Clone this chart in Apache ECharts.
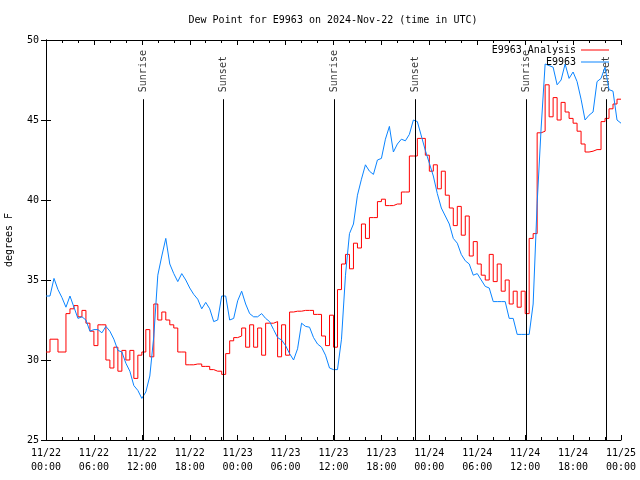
<!DOCTYPE html>
<html>
<head>
<meta charset="utf-8">
<script src="https://cdn.jsdelivr.net/npm/echarts@6/dist/echarts.min.js"></script>
<style>
html,body{margin:0;padding:0;background:#fff;}
#chart{width:640px;height:480px;}
</style>
</head>
<body>
<div id="chart"></div>
<script>
// Sample spacing (hours) of the two series, starting 2024-11-22 00:00 UTC
const sampleStepHours = 0.5;

// E9963 Analysis (red), one value per half hour
const analysisValues = [
  30.5,31.3,31.3,30.5,30.5,32.9,33.2,33.4,32.7,33.1,32.3,31.8,
  30.9,32.2,32.2,30.0,29.5,30.8,29.3,30.6,30.0,30.6,28.85,30.3,
  30.5,31.9,30.2,33.5,32.5,33.0,32.5,32.2,32.0,30.5,30.5,29.7,
  29.7,29.75,29.75,29.6,29.6,29.4,29.3,29.3,29.1,30.4,31.2,31.4,
  31.5,32.0,30.8,32.2,30.8,32.0,30.3,32.3,32.3,32.4,30.2,32.2,
  30.3,33.0,33.05,33.05,33.1,33.1,33.1,32.85,32.85,31.5,30.9,32.8,
  30.8,34.4,36.0,36.6,35.7,37.3,37.0,38.5,37.6,38.9,38.9,39.9,
  40.05,39.65,39.65,39.75,39.75,40.5,40.5,42.75,42.75,43.85,43.85,42.8,
  41.8,42.2,40.7,41.8,40.3,39.5,38.4,39.6,37.8,39.0,36.5,37.4,
  36.0,35.3,35.0,36.6,34.9,36.0,34.3,35.0,33.5,34.3,33.3,34.3,
  32.9,37.6,37.9,44.2,44.3,47.2,45.2,46.4,45.0,46.1,45.5,45.1,
  44.8,44.3,43.5,43.0,43.05,43.15,43.15,44.9,45.1,45.7,46.0,46.3,
  46.3
];

// E9963 observations (blue), one value per half hour
const observedValues = [
  34.0,34.0,35.1,34.4,33.9,33.3,34.0,33.3,32.6,32.7,32.5,31.8,
  31.9,31.9,31.7,32.1,31.8,31.3,30.6,30.5,29.8,29.3,28.4,28.1,
  27.6,28.0,29.0,31.5,35.3,36.5,37.6,36.0,35.4,34.9,35.4,35.0,
  34.5,34.1,33.8,33.2,33.6,33.2,32.4,32.5,34.0,34.0,32.5,32.6,
  33.7,34.3,33.5,32.9,32.7,32.7,32.9,32.6,32.4,31.9,31.4,31.25,
  30.9,30.4,30.0,30.7,32.3,32.1,32.05,31.4,31.0,30.8,30.3,29.5,
  29.4,29.4,31.3,35.3,37.9,38.5,40.3,41.3,42.2,41.8,41.6,42.5,
  42.6,43.8,44.6,43.0,43.5,43.8,43.7,44.1,45.0,44.9,44.0,43.1,
  42.3,41.5,40.4,39.5,39.0,38.5,37.6,37.3,36.6,36.2,36.0,35.3,
  35.4,35.0,34.6,34.5,33.65,33.65,33.65,33.65,32.6,32.6,31.6,31.6,
  31.6,31.6,33.5,39.8,44.5,48.5,48.4,48.3,47.2,47.5,48.5,47.6,
  48.0,47.4,46.3,45.0,45.3,45.5,47.4,47.6,48.3,46.9,46.8,45.0,
  44.8
];

// Sunrise / sunset markers (hours after 2024-11-22 00:00 UTC)
const eventHours = [12.17, 22.2, 36.1, 46.29, 60.1, 70.16];
const eventNames = ['Sunrise', 'Sunset', 'Sunrise', 'Sunset', 'Sunrise', 'Sunset'];
const eventLineTop = 46.3;

// Axis ticks
const xTickLabels = [
  '11/22\n00:00','11/22\n06:00','11/22\n12:00','11/22\n18:00',
  '11/23\n00:00','11/23\n06:00','11/23\n12:00','11/23\n18:00',
  '11/24\n00:00','11/24\n06:00','11/24\n12:00','11/24\n18:00',
  '11/25\n00:00'
];
const xTickStepHours = 6;
const yMin = 25, yMax = 50, yStep = 5;

const FONT = 'DejaVu Sans Mono';
const toPairs = vals => vals.map((v, i) => [i * sampleStepHours, v]);

const chart = echarts.init(document.getElementById('chart'), null, {renderer: 'canvas'});

const axisCommon = {
  type: 'value',
  axisLine: {show: true, lineStyle: {color: '#000', width: 1}},
  axisTick: {show: true, inside: true, length: 5, lineStyle: {color: '#000', width: 1}},
  splitLine: {show: false}
};

chart.setOption({
  animation: false,
  backgroundColor: '#fff',
  title: {
    text: 'Dew Point for E9963 on 2024-Nov-22 (time in UTC)',
    left: 328, top: 10, textAlign: 'center',
    textStyle: {fontFamily: FONT, fontSize: 10, fontWeight: 'normal', color: '#000'}
  },
  legend: {
    orient: 'vertical', right: 26, top: 39, align: 'right',
    itemWidth: 28, itemHeight: 1, itemGap: 0, icon: 'rect',
    textStyle: {fontFamily: FONT, fontSize: 10, color: '#000', lineHeight: 12},
    data: ['E9963 Analysis', 'E9963']
  },
  grid: {left: 46, right: 19, top: 40, bottom: 40, containLabel: false, outerBoundsMode: 'none'},
  xAxis: [
    Object.assign({}, axisCommon, {
      position: 'bottom', min: 0, max: 72, interval: xTickStepHours,
      minorTick: {show: true, splitNumber: 3, length: 3, lineStyle: {color: '#000'}},
      axisLabel: {
        fontFamily: FONT, fontSize: 10, color: '#000', lineHeight: 14, margin: 6,
        formatter: v => xTickLabels[Math.round(v / xTickStepHours)] || ''
      }
    }),
    Object.assign({}, axisCommon, {
      position: 'top', min: 0, max: 72, interval: xTickStepHours,
      minorTick: {show: true, splitNumber: 3, length: 3, lineStyle: {color: '#000'}},
      axisLabel: {show: false}
    })
  ],
  yAxis: [
    Object.assign({}, axisCommon, {
      position: 'left', min: yMin, max: yMax, interval: yStep,
      name: 'degrees F', nameLocation: 'middle', nameGap: 32, nameRotate: 90,
      nameTextStyle: {fontFamily: FONT, fontSize: 10, color: '#000'},
      axisLabel: {fontFamily: FONT, fontSize: 10, color: '#000', margin: 7}
    }),
    Object.assign({}, axisCommon, {
      position: 'right', min: yMin, max: yMax, interval: yStep,
      axisLabel: {show: false}
    })
  ],
  series: [
    {
      name: 'E9963 Analysis', type: 'line', step: 'end',
      data: toPairs(analysisValues),
      showSymbol: false, symbol: 'none',
      lineStyle: {color: '#ff0000', width: 1},
      itemStyle: {color: '#ff0000'}
    },
    {
      name: 'E9963', type: 'line',
      data: toPairs(observedValues),
      showSymbol: false, symbol: 'none',
      lineStyle: {color: '#0a84ff', width: 1},
      itemStyle: {color: '#0a84ff'}
    },
    {
      name: 'events', type: 'scatter',
      data: eventHours.map((h, i) => ({value: [h, eventLineTop], name: eventNames[i]})),
      symbolSize: 0,
      silent: true,
      label: {
        show: true, formatter: p => p.name, rotate: 90,
        position: 'top', distance: 7, align: 'left', verticalAlign: 'middle',
        fontFamily: FONT, fontSize: 10, color: '#000'
      },
      markLine: {
        silent: true, symbol: 'none', animation: false,
        label: {show: false},
        lineStyle: {color: '#000', width: 1, type: 'solid'},
        data: eventHours.map(h => [{coord: [h, yMin]}, {coord: [h, eventLineTop]}])
      }
    }
  ]
});
</script>
</body>
</html>
